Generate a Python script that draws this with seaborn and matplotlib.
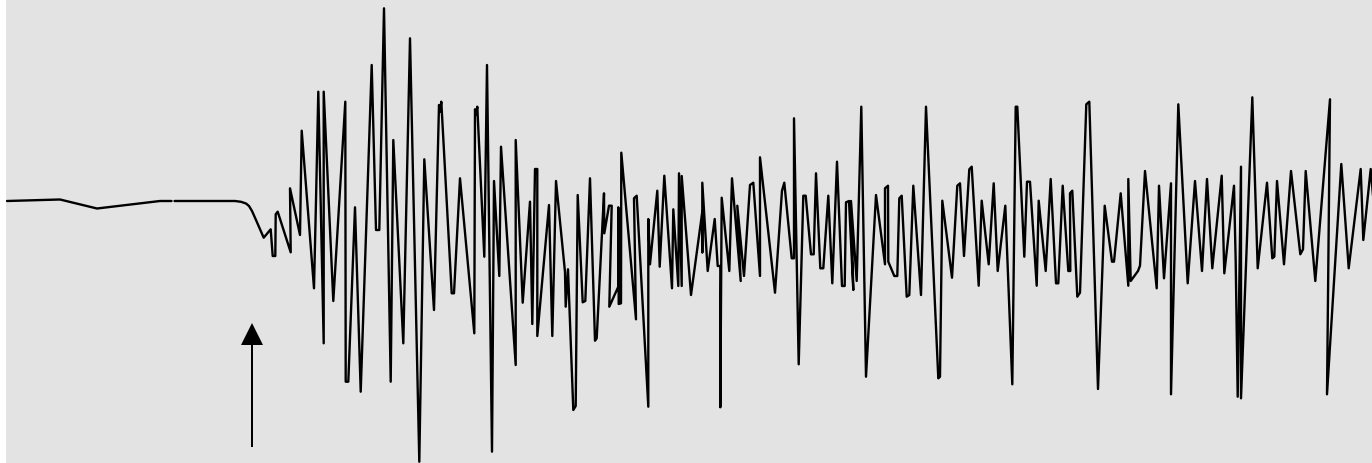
import numpy as np
import pandas as pd
import seaborn as sns
import matplotlib
matplotlib.use("Agg")
import matplotlib.pyplot as plt

# Quiet trace before the event (time, amplitude)
t_pre = [7, 60, 97, 160, 171.5]
amp_pre = [0, 1.5, -7.5, 0, 0]

# Trace after the short dropout: onset and shaking
t_main = [174.5, 235, 241, 246, 249, 252, 256, 263.7, 270.7, 272.7, 275.3, 275.7, 277.7,
          290.7, 290, 300, 301.7, 314, 316, 318.3, 323.7, 323.7, 333.3, 345.3, 345.7,
          348.3, 355, 360.7, 371.7, 376, 379.3, 384, 390.7, 393.3, 403.3, 410, 419.3,
          424.3, 434, 439, 440, 441.3, 451.7, 454, 460, 474.3, 475, 476, 477.3, 484.3,
          487, 492, 494, 499.3, 501, 515.7, 515.7, 522.7, 530, 532.3, 535, 537.3, 537.3,
          549, 552.3, 556, 565, 565.7, 568, 573.3, 575.7, 577.7, 582.7, 585.3, 590, 595,
          596.7, 604, 604.3, 609, 611.7, 609.3, 618.3, 618.3, 618.7, 621, 621.3, 636,
          634, 636.7, 648.3, 648.3, 650, 657.3, 659.7, 664.3, 672, 673.3, 678.3, 679,
          681.7, 681.7, 691, 702.3, 702.3, 702.3, 707.7, 714.7, 717.7, 720.3, 720.3,
          721.7, 729.3, 732, 740.7, 737.3, 744, 750, 753.3, 760, 760, 775, 782, 784.3,
          791.7, 794, 794, 798.7, 803.3, 805.7, 811, 813.7, 816, 820.3, 823.3, 828.3,
          832.3, 837, 842, 844.7, 846, 849, 853.3, 851, 856.7, 861.3, 866, 876, 885, 885,
          888, 888.3, 894.3, 897.3, 899.3, 901.7, 906.7, 909.3, 913.3, 921, 926, 938.3,
          940, 942.3, 952, 957.3, 960, 964, 969.3, 971.7, 978.7, 981.7, 988.7, 993.7,
          997.7, 1005.3, 1012.3, 1015.7, 1017.3, 1024.3, 1027, 1030, 1036.7, 1038.7,
          1045.7, 1050.7, 1056, 1058.3, 1062.7, 1068.3, 1070.3, 1070, 1072.3, 1077.3,
          1080, 1086.3, 1089.3, 1098, 1104.7, 1112, 1114, 1120.7, 1128.3, 1128.3, 1130.7,
          1138, 1140, 1145, 1156.7, 1159, 1164, 1171, 1171, 1178.3, 1187.7, 1195, 1202,
          1207, 1212.3, 1221.7, 1224.3, 1234, 1235.7, 1237.7, 1241, 1241, 1252.3, 1257.7,
          1267, 1272.3, 1274.3, 1277, 1284, 1291, 1300.3, 1303, 1305.7, 1315.3, 1330,
          1327, 1341.3, 1348.7, 1360.7, 1363.3, 1370.7, 1376]
y_px_main = [201, 201, 201.8, 203.5, 206, 211, 220, 237.7, 229.3, 256, 256, 214.3, 211.7,
             252.3, 188.3, 235, 130.7, 288.3, 200.7, 91.7, 343.3, 91.7, 301, 101.7, 381.7,
             381.7, 207.3, 391.7, 65, 230, 230, 8.3, 381.7, 140, 343.3, 38.3, 461.7,
             159.3, 310, 105, 112, 101.7, 293.3, 293.3, 178.3, 333.3, 109.3, 115, 106.7, 256.7,
             65, 451.7, 181, 276, 146.7, 365, 140, 302.7, 201.7, 324, 169, 169, 336,
             205, 336, 181, 272, 306.7, 269.3, 410, 406, 195, 302.3, 301, 178.3, 340.7,
             338.3, 193.3, 233.3, 205.7, 205.7, 306.7, 286.7, 207.3, 304, 303.3, 152.7, 319.3,
             198.3, 195.7, 406.7, 219, 264.3, 190.7, 266.7, 175.7, 288.3, 209.3, 286, 173.3,
             286, 176, 295, 211.7, 252.3, 182.7, 271, 219, 266, 266, 407.3,
             197.7, 271, 178.3, 281, 205.7, 276, 185, 182.7, 276, 157.3, 292.7, 190.7, 182.7,
             258.3, 258.3, 118.3, 364.3, 195.7, 195.7, 254.3, 254.3, 173.3, 268.3, 268.3, 195.7,
             283.3, 161.7, 286, 286, 202.3, 201, 290, 201, 281, 106.7, 376.7, 195, 264.3, 188.3,
             185.7, 261.7, 276, 276, 198.3, 195.7, 296.7, 295, 185.7, 295, 106.7, 378.3,
             376.7, 200.7, 277.7, 185.7, 183.3, 256, 169.3, 166.7, 285.7, 200.7, 264.3, 183.3,
             271, 205.7, 384.3, 106.7, 106.7, 256.7, 181.7, 181.7, 285.7, 200.7,
             271, 179, 283.3, 283.3, 185.7, 271, 271, 193.3, 190.7, 296.7,
             292.7, 104.3, 101.7, 389, 205.7, 261.7, 261.7, 193.3, 285.7, 179, 281,
             271, 265.7, 171, 288.3, 185.7, 278.3, 183.3, 394.3, 104.3, 283.3, 181, 271,
             179, 268.3, 175.7, 273.3, 185.7, 261.7, 396.7, 166.7, 398.3, 97.3, 268.3,
             182.7, 258.3, 256.7, 181, 264.3, 171, 254.3, 249.3, 171, 281, 99.3,
             394.3, 164, 268.3, 169, 240, 169, 230]
amp_main = [201 - v for v in y_px_main]

# Marker for the first arrival
arrival_t = 252
arrow_from, arrow_to = -246, -122

df = pd.concat([
    pd.DataFrame({"t": t_pre, "amp": amp_pre, "trace": 0}),
    pd.DataFrame({"t": t_main, "amp": amp_main, "trace": 1}),
], ignore_index=True)

sns.set_theme(style="white")
fig = plt.figure(figsize=(13.72, 4.63), dpi=100)
ax = fig.add_axes([6 / 1372, 0, 1366 / 1372, 1])
ax.set_facecolor("#e3e3e3")

sns.lineplot(data=df, x="t", y="amp", units="trace", estimator=None, sort=False,
             color="black", linewidth=1.7, ax=ax)

ax.arrow(arrival_t, arrow_from, 0, arrow_to - arrow_from, width=2, head_width=22,
         head_length=22, length_includes_head=True, fc="black", ec="none")

ax.set_xlim(6, 1372)
ax.set_ylim(201 - 463, 201)
ax.set_xticks([])
ax.set_yticks([])
ax.set_xlabel("")
ax.set_ylabel("")
for s in ax.spines.values():
    s.set_visible(False)

fig.savefig("out.png", dpi=100)
